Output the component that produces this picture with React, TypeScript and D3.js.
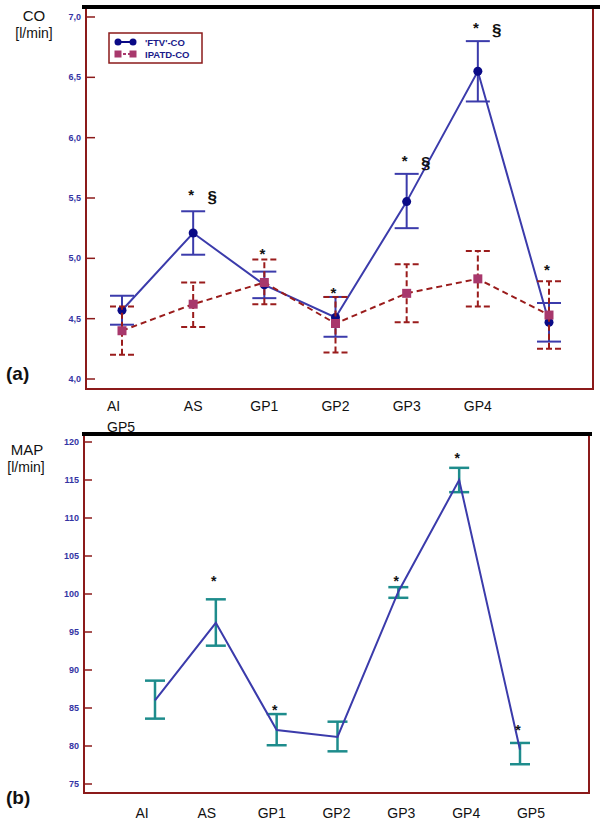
import React from "react";
import * as d3 from "d3";

const categories = ["AI", "AS", "GP1", "GP2", "GP3", "GP4", "GP5"];
const axisLabelsA = [["AI", "GP5"], ["AS"], ["GP1"], ["GP2"], ["GP3"], ["GP4"], []];
const axisLabelsB = ["AI", "AS", "GP1", "GP2", "GP3", "GP4", "GP5"];

const ftvMean = [4.57, 5.21, 4.78, 4.51, 5.47, 6.55, 4.47];
const ftvLow = [4.45, 5.03, 4.67, 4.35, 5.25, 6.3, 4.31];
const ftvHigh = [4.69, 5.39, 4.89, 4.68, 5.7, 6.8, 4.63];

const ipatdMean = [4.4, 4.62, 4.8, 4.46, 4.71, 4.83, 4.53];
const ipatdLow = [4.2, 4.43, 4.62, 4.22, 4.47, 4.6, 4.25];
const ipatdHigh = [4.6, 4.8, 4.99, 4.68, 4.95, 5.06, 4.81];

const coMarks = ["", "* §", "*", "*", "* §", "* §", "*"];
const coMarkValue = [0, 5.56, 5.07, 4.75, 5.84, 6.94, 4.94];

const mapMean = [86.0, 96.2, 82.1, 81.2, 100.3, 115.0, 79.5];
const mapLow = [83.6, 93.2, 80.1, 79.3, 99.5, 113.4, 77.6];
const mapHigh = [88.6, 99.3, 84.2, 83.2, 100.9, 116.6, 80.4];
const mapMarks = ["", "*", "*", "", "*", "*", "*"];
const mapMarkValue = [0, 102.1, 85.1, 0, 102.1, 118.3, 82.5];

const yTicksA = [4.0, 4.5, 5.0, 5.5, 6.0, 6.5, 7.0];
const yTicksB = [75, 80, 85, 90, 95, 100, 105, 110, 115, 120];

const FONT = "'Liberation Sans', Arial, sans-serif";
const FRAME = "#8b1a1a";
const TICKTXT = "#3434a4";
const BLUE_LINE = "#3b3bab";
const BLUE_DOT = "#0a0a86";
const RED_LINE = "#9a1c1c";
const RED_SQ = "#a8386c";
const TEAL = "#1e8c8c";

export default function App() {
  const xA = d3.scalePoint<string>().domain(categories).range([122, 549]);
  const yA = d3.scaleLinear().domain([4, 7]).range([379, 17]);
  const xB = d3.scalePoint<string>().domain(categories).range([155, 520]);
  const xBLabel = d3.scalePoint<string>().domain(categories).range([142, 531]);
  const yB = d3.scaleLinear().domain([75, 120]).range([784, 442]);

  const lineA = (vals: number[]) =>
    d3
      .line<number>()
      .x((_, i) => xA(categories[i])!)
      .y((d) => yA(d))(vals)!;
  const lineB = d3
    .line<number>()
    .x((_, i) => xB(categories[i])!)
    .y((d) => yB(d))(mapMean)!;

  const fmtA = (v: number) => d3.format(".1f")(v).replace(".", ",");

  return (
    <svg
      width={600}
      height={824}
      style={{ position: "absolute", left: 0, top: 0, background: "#fff" }}
      fontFamily={FONT}
    >
      <rect x={0} y={0} width={600} height={824} fill="#fff" />

      {/* ---------- Panel (a) ---------- */}
      <text x={34} y={21} fontSize={15} textAnchor="middle" fill="#111">CO</text>
      <text x={34} y={38} fontSize={14} textAnchor="middle" fill="#111">[l/min]</text>
      <text x={6} y={380} fontSize={19} fontWeight="bold" fill="#111">(a)</text>

      <rect x={86} y={7} width={507} height={382} fill="none" stroke={FRAME} strokeWidth={2} />
      <line x1={82} x2={600} y1={7} y2={7} stroke="#000" strokeWidth={4} />

      {yTicksA.map((t) => (
        <g key={"ta" + t}>
          <line x1={86} x2={95} y1={yA(t)} y2={yA(t)} stroke={FRAME} strokeWidth={1.5} />
          <text x={81} y={yA(t) + 3} fontSize={9} fontWeight="bold" textAnchor="end" fill={TICKTXT}>
            {fmtA(t)}
          </text>
        </g>
      ))}

      {axisLabelsA.map((lines, i) =>
        lines.map((l, j) => (
          <text
            key={"la" + i + j}
            x={lines.length > 1 ? xA(categories[i])! - 15 : xA(categories[i])!}
            y={411 + j * 21}
            fontSize={14}
            textAnchor={lines.length > 1 ? "start" : "middle"}
            fill="#111"
          >
            {l}
          </text>
        ))
      )}

      {/* FTV series */}
      <path d={lineA(ftvMean)} fill="none" stroke={BLUE_LINE} strokeWidth={2} />
      {categories.map((c, i) => (
        <g key={"fe" + c} stroke={BLUE_LINE} strokeWidth={2}>
          <line x1={xA(c)} x2={xA(c)} y1={yA(ftvLow[i])} y2={yA(ftvHigh[i])} />
          <line x1={xA(c)! - 12} x2={xA(c)! + 12} y1={yA(ftvLow[i])} y2={yA(ftvLow[i])} />
          <line x1={xA(c)! - 12} x2={xA(c)! + 12} y1={yA(ftvHigh[i])} y2={yA(ftvHigh[i])} />
        </g>
      ))}
      {categories.map((c, i) => (
        <circle key={"fd" + c} cx={xA(c)} cy={yA(ftvMean[i])} r={4.5} fill={BLUE_DOT} />
      ))}

      {/* IPATD series */}
      <path d={lineA(ipatdMean)} fill="none" stroke={RED_LINE} strokeWidth={2} strokeDasharray="6,4" />
      {categories.map((c, i) => (
        <g key={"ie" + c} stroke={RED_LINE} strokeWidth={2} strokeDasharray="6,3">
          <line x1={xA(c)} x2={xA(c)} y1={yA(ipatdLow[i])} y2={yA(ipatdHigh[i])} />
          <line x1={xA(c)! - 12} x2={xA(c)! + 12} y1={yA(ipatdLow[i])} y2={yA(ipatdLow[i])} />
          <line x1={xA(c)! - 12} x2={xA(c)! + 12} y1={yA(ipatdHigh[i])} y2={yA(ipatdHigh[i])} />
        </g>
      ))}
      {categories.map((c, i) => (
        <rect key={"is" + c} x={xA(c)! - 4.5} y={yA(ipatdMean[i]) - 4.5} width={9} height={9} fill={RED_SQ} />
      ))}

      {categories.map((c, i) =>
        coMarks[i] ? (
          <g key={"ma" + c}>
            <text x={xA(c)! - 2} y={yA(coMarkValue[i]) + 9} fontSize={15} fontWeight="bold" textAnchor="middle" fill="#111">
              *
            </text>
            {coMarks[i].includes("§") && (
              <text x={xA(c)! + 19} y={yA(coMarkValue[i]) + 12} fontSize={17} fontWeight="bold" textAnchor="middle" fill="#111">
                §
              </text>
            )}
          </g>
        ) : null
      )}

      {/* Legend */}
      <rect x={109} y={33} width={93} height={30} fill="#fff" stroke={FRAME} strokeWidth={1.5} />
      <line x1={118} x2={133} y1={42} y2={42} stroke={BLUE_DOT} strokeWidth={2} />
      <circle cx={118} cy={42} r={3.5} fill={BLUE_DOT} />
      <circle cx={133} cy={42} r={3.5} fill={BLUE_DOT} />
      <text x={145} y={45.5} fontSize={9.5} fontWeight="bold" fill="#1a1a8a">'FTV'-CO</text>
      <line x1={118} x2={133} y1={54} y2={54} stroke={RED_SQ} strokeWidth={2} strokeDasharray="3,2" />
      <rect x={114.5} y={50.5} width={7} height={7} fill={RED_SQ} />
      <rect x={129.5} y={50.5} width={7} height={7} fill={RED_SQ} />
      <text x={145} y={57.5} fontSize={9.5} fontWeight="bold" fill="#1a1a8a">IPATD-CO</text>

      {/* ---------- Panel (b) ---------- */}
      <text x={27} y={455} fontSize={15} textAnchor="middle" fill="#111">MAP</text>
      <text x={26} y={472} fontSize={14} textAnchor="middle" fill="#111">[l/min]</text>
      <text x={6} y={804} fontSize={19} fontWeight="bold" fill="#111">(b)</text>

      <rect x={84} y={434} width={505} height={359} fill="none" stroke={FRAME} strokeWidth={2} />
      <line x1={82} x2={592} y1={434} y2={434} stroke="#000" strokeWidth={4} />

      {yTicksB.map((t) => (
        <g key={"tb" + t}>
          <line x1={84} x2={92} y1={yB(t)} y2={yB(t)} stroke={FRAME} strokeWidth={1.5} />
          <text x={79} y={yB(t) + 3} fontSize={9} fontWeight="bold" textAnchor="end" fill={TICKTXT}>
            {t}
          </text>
        </g>
      ))}

      {axisLabelsB.map((l, i) => (
        <text key={"lb" + i} x={xBLabel(categories[i])} y={818} fontSize={14} textAnchor="middle" fill="#111">
          {l}
        </text>
      ))}

      {categories.map((c, i) => (
        <g key={"me" + c} stroke={TEAL} strokeWidth={2.5}>
          <line x1={xB(c)} x2={xB(c)} y1={yB(mapLow[i])} y2={yB(mapHigh[i])} />
          <line x1={xB(c)! - 10} x2={xB(c)! + 10} y1={yB(mapLow[i])} y2={yB(mapLow[i])} />
          <line x1={xB(c)! - 10} x2={xB(c)! + 10} y1={yB(mapHigh[i])} y2={yB(mapHigh[i])} />
        </g>
      ))}
      <path d={lineB} fill="none" stroke={BLUE_LINE} strokeWidth={2} />

      {categories.map((c, i) =>
        mapMarks[i] ? (
          <text key={"mb" + c} x={xB(c)! - 2} y={yB(mapMarkValue[i]) + 8} fontSize={14} fontWeight="bold" textAnchor="middle" fill="#111">
            *
          </text>
        ) : null
      )}
    </svg>
  );
}
